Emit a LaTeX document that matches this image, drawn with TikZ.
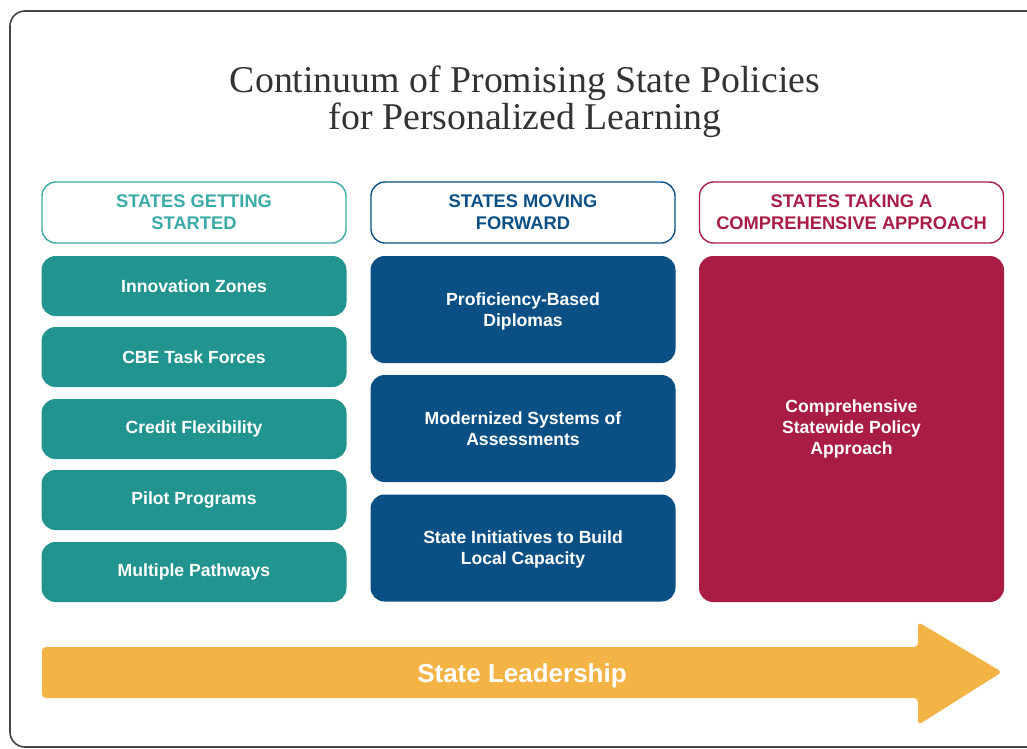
\documentclass[tikz,border=0pt]{standalone}
\usepackage{fontspec}
\setmainfont{Liberation Serif}
\setsansfont{Liberation Sans}
\definecolor{framegray}{HTML}{444444}
\definecolor{titlegray}{HTML}{333333}
\definecolor{tealhdr}{HTML}{3BABA6}
\definecolor{tealfill}{HTML}{22948F}
\definecolor{bluefill}{HTML}{0B5084}
\definecolor{redfill}{HTML}{A91D44}
\definecolor{goldfill}{HTML}{F3B345}
\begin{document}
\begin{tikzpicture}[x=1pt,y=-1pt,
  hdr/.style={draw, line width=1.4pt, rounded corners=14pt, fill=white,
    minimum width=304pt, minimum height=61pt, inner sep=2pt, align=center,
    font=\sffamily\bfseries\fontsize{18.3}{22}\selectfont},
  item/.style={rounded corners=14pt, minimum width=305pt, inner sep=2pt,
    align=center, text=white,
    font=\sffamily\bfseries\fontsize{17.6}{21}\selectfont},
  smallitem/.style={item, minimum height=60pt},
  miditem/.style={item, minimum height=107pt},
  bigitem/.style={item, minimum height=346pt},
  titlestyle/.style={anchor=base, inner sep=0pt, text=titlegray,
    font=\rmfamily\fontsize{37.8}{40}\selectfont}
]
\useasboundingbox (0,0) rectangle (1027,748);
\begin{scope}
  \clip (0,0) rectangle (1027,748);
  \draw[framegray, line width=1.6pt, rounded corners=15pt] (10,11) rectangle (1045,747);
\end{scope}

\node[titlestyle] (title1) at (525,92) {Continuum of Promising State Policies};
\node[titlestyle] (title2) at (525,129) {for Personalized Learning};

% headers
\node[hdr, draw=tealhdr, text=tealhdr] (h1) at (194,212.5) {STATES GETTING\\STARTED};
\node[hdr, draw=bluefill, text=bluefill] (h2) at (523,212.5) {STATES MOVING\\FORWARD};
\node[hdr, draw=redfill, text=redfill] (h3) at (851.5,212.5) {STATES TAKING A\\COMPREHENSIVE APPROACH};

% column 1
\node[smallitem, fill=tealfill] (c1a) at (194,286) {Innovation Zones};
\node[smallitem, fill=tealfill] (c1b) at (194,357) {CBE Task Forces};
\node[smallitem, fill=tealfill] (c1c) at (194,429) {Credit Flexibility};
\node[smallitem, fill=tealfill] (c1d) at (194,500) {Pilot Programs};
\node[smallitem, fill=tealfill] (c1e) at (194,572) {Multiple Pathways};

% column 2
\node[miditem, fill=bluefill, text depth=0pt] (c2a) at (523,309.5) {Proficiency-Based\\Diplomas};
\node[miditem, fill=bluefill, text depth=0pt] (c2b) at (523,428.5) {Modernized Systems of\\Assessments};
\node[miditem, fill=bluefill, text depth=0pt] (c2c) at (523,548) {State Initiatives to Build\\Local Capacity};

% column 3
\node[bigitem, fill=redfill] (c3) at (851.5,429) {Comprehensive\\Statewide Policy\\Approach};

% arrow
\fill[goldfill, rounded corners=4pt] (42,647) -- (918,647) -- (918,622) -- (1002,672)
  -- (918,725) -- (918,698) -- (42,698) -- cycle;
\node[text=white, font=\sffamily\bfseries\fontsize{26}{30}\selectfont] (lead) at (522,676) {State Leadership};
\end{tikzpicture}
\end{document}
